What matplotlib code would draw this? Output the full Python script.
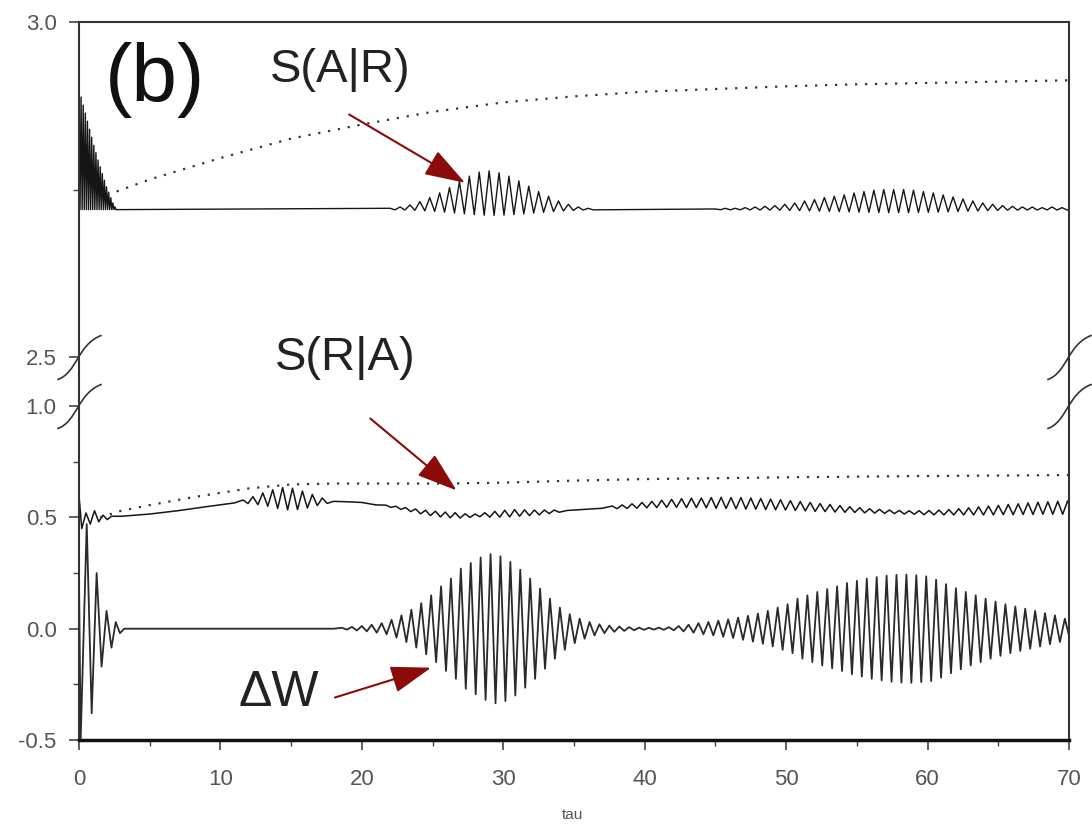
import numpy as np
import matplotlib
matplotlib.use("Agg")
from matplotlib import pyplot as plt
from matplotlib.path import Path

plt.rcParams['font.family'] = ['Liberation Sans', 'DejaVu Sans']

# --- data ----------------------------------------------------------------
PERIOD = 0.7          # carrier period of the bursts (tau units)
BASE_AR = 2.72        # baseline of S(A|R) solid trace

# S(A|R), upper panel
sar_head_amp = [0.18, 0.168, 0.156, 0.144, 0.132, 0.12, 0.108, 0.096, 0.085,
                0.074, 0.064, 0.054, 0.044, 0.034, 0.026, 0.018, 0.01, 0.004]
sar_burst1_amp = [0.002, 0.004, 0.007, 0.012, 0.018, 0.025, 0.033, 0.042, 0.05,
                  0.056, 0.058, 0.055, 0.05, 0.043, 0.035, 0.027, 0.02, 0.013,
                  0.008, 0.004, 0.002]
sar_burst2_amp = [0.001, 0.002, 0.002, 0.003, 0.004, 0.005, 0.006, 0.008, 0.01,
                  0.013, 0.015, 0.018, 0.02, 0.022, 0.025, 0.027, 0.029, 0.03,
                  0.03, 0.03, 0.029, 0.027, 0.025, 0.022, 0.019, 0.016, 0.013,
                  0.01, 0.008, 0.006, 0.005, 0.004, 0.004, 0.003, 0.004, 0.003]
sar_dot_tau = [2, 5, 10, 15, 20, 25, 30, 35, 40, 45, 50, 55, 60, 65, 70]
sar_dot_val = [2.742, 2.765, 2.797, 2.826, 2.847, 2.866, 2.880, 2.889, 2.896,
               2.900, 2.904, 2.907, 2.909, 2.911, 2.913]

# S(R|A), lower panel
sra_head_tau = [0.0, 0.2, 0.5, 0.8, 1.1, 1.4, 1.7, 2.0, 2.3, 3, 5, 7, 9, 11]
sra_head_val = [0.6, 0.45, 0.52, 0.47, 0.53, 0.48, 0.51, 0.49, 0.505, 0.505,
                0.515, 0.53, 0.548, 0.565]
sra_a_centre = [0.57, 0.575, 0.58, 0.582, 0.584, 0.583, 0.58, 0.578, 0.575]
sra_a_amp = [0.008, 0.018, 0.03, 0.042, 0.05, 0.048, 0.038, 0.025, 0.012]
sra_mid1_tau = [18, 19, 20, 21]
sra_mid1_val = [0.572, 0.57, 0.567, 0.556]
sra_b_centre = [0.55, 0.543, 0.535, 0.527, 0.52, 0.515, 0.511, 0.509, 0.508,
                0.509, 0.511, 0.514, 0.517, 0.52, 0.521, 0.522, 0.525, 0.528]
sra_b_amp = [0.005, 0.007, 0.009, 0.011, 0.012, 0.013, 0.013, 0.012, 0.008,
             0.006, 0.01, 0.013, 0.015, 0.015, 0.013, 0.011, 0.008, 0.005]
sra_mid2_tau = [34.5, 36, 37]
sra_mid2_val = [0.531, 0.537, 0.541]
sra_c_centre = [0.545, 0.548, 0.551, 0.555, 0.558, 0.561, 0.563, 0.564, 0.565,
                0.565, 0.565, 0.565, 0.564, 0.563, 0.562, 0.56, 0.558, 0.556,
                0.553, 0.55, 0.547, 0.544, 0.541, 0.538, 0.535, 0.532, 0.529,
                0.527, 0.525, 0.523, 0.522, 0.521, 0.521, 0.522, 0.523, 0.525,
                0.527, 0.529, 0.531, 0.533, 0.535, 0.537, 0.539, 0.541, 0.542,
                0.543, 0.544]
sra_c_amp = [0.006, 0.008, 0.01, 0.012, 0.014, 0.016, 0.018, 0.02, 0.021, 0.022,
             0.024, 0.025, 0.025, 0.026, 0.025, 0.025, 0.024, 0.023, 0.022,
             0.021, 0.02, 0.018, 0.017, 0.015, 0.013, 0.012, 0.01, 0.009, 0.008,
             0.008, 0.008, 0.009, 0.01, 0.011, 0.012, 0.014, 0.016, 0.018, 0.02,
             0.021, 0.023, 0.024, 0.026, 0.027, 0.028, 0.029, 0.03]
sra_dot_tau = [1.5, 3, 5, 8, 10, 12, 15, 18, 22, 26, 30, 35, 40, 45, 50, 55, 60,
               65, 70]
sra_dot_val = [0.5, 0.53, 0.555, 0.59, 0.61, 0.63, 0.648, 0.652, 0.652, 0.652,
               0.656, 0.665, 0.672, 0.676, 0.68, 0.683, 0.686, 0.688, 0.69]

# Delta W, lower panel
dw_head_tau = [0.0, 0.12, 0.55, 0.9, 1.25, 1.6, 1.95, 2.3, 2.6, 2.9, 3.2, 18.0]
dw_head_val = [0.25, -0.5, 0.47, -0.38, 0.25, -0.17, 0.08, -0.085, 0.03, -0.02,
               0.0, 0.0]
dw_burst1_amp = [0.004, 0.008, 0.012, 0.018, 0.025, 0.04, 0.06, 0.085, 0.115,
                 0.15, 0.19, 0.225, 0.27, 0.295, 0.32, 0.335, 0.325, 0.3, 0.265,
                 0.225, 0.18, 0.135, 0.095, 0.065, 0.045, 0.03, 0.02, 0.014,
                 0.01, 0.007, 0.005]
dw_burst2_amp = [0.004, 0.005, 0.007, 0.012, 0.018, 0.025, 0.03, 0.036, 0.042,
                 0.05, 0.058, 0.068, 0.08, 0.095, 0.11, 0.135, 0.15, 0.165,
                 0.178, 0.19, 0.205, 0.215, 0.225, 0.232, 0.238, 0.242, 0.243,
                 0.24, 0.235, 0.22, 0.2, 0.182, 0.165, 0.15, 0.135, 0.122, 0.11,
                 0.1, 0.09, 0.08, 0.07, 0.06, 0.045]

tick_vals = [-0.5, 0.0, 0.5, 1.0, 2.5, 3.0]
tick_labels = ["-0.5", "0.0", "0.5", "1.0", "2.5", "3.0"]


def zigzag(start, step, centre, amps, low=1.0):
    xs, ys = [], []
    for i, a in enumerate(amps):
        c = centre[i] if isinstance(centre, list) else centre
        t = start + i * step
        xs += [t, t + step / 2]
        ys += [c + a, c - low * a]
    return xs, ys


# broken y axis: 1.0 -> 2.5 squeezed, upper part stretched
def fwd(y):
    y = np.asarray(y, dtype=float)
    return np.where(y <= 1.0, y,
                    np.where(y >= 2.5, 1.22 + (y - 2.5) * 3.01,
                             1.0 + (y - 1.0) * 0.22 / 1.5))


def inv(v):
    v = np.asarray(v, dtype=float)
    return np.where(v <= 1.0, v,
                    np.where(v >= 1.22, 2.5 + (v - 1.22) / 3.01,
                             1.0 + (v - 1.0) * 1.5 / 0.22))


fig = plt.figure(figsize=(10.92, 8.36), dpi=100)
ax = fig.add_axes([0.0723, 0.1148, 0.9067, 0.8589])
ax.set_yscale('function', functions=(fwd, inv))

# S(A|R) solid
x1, y1 = zigzag(0.0, 0.15, BASE_AR, sar_head_amp, low=0.0)
x2, y2 = zigzag(22.0, PERIOD, BASE_AR, sar_burst1_amp, low=0.15)
x3, y3 = zigzag(45.0, PERIOD, BASE_AR, sar_burst2_amp, low=0.15)
ax.plot(x1 + x2 + x3 + [70.5], y1 + y2 + y3 + [BASE_AR], color='#151515', lw=1.0)
ax.plot(sar_dot_tau, sar_dot_val, color='#333333', lw=1.6, linestyle=(0, (1, 3.5)))

# S(R|A) solid
xa, ya = zigzag(11.6, PERIOD, sra_a_centre, sra_a_amp)
xb, yb = zigzag(21.7, PERIOD, sra_b_centre, sra_b_amp)
xc, yc = zigzag(37.7, PERIOD, sra_c_centre, sra_c_amp)
ax.plot(sra_head_tau + xa + sra_mid1_tau + xb + sra_mid2_tau + xc,
        sra_head_val + ya + sra_mid1_val + yb + sra_mid2_val + yc,
        color='#151515', lw=1.1)
ax.plot(sra_dot_tau, sra_dot_val, color='#333333', lw=1.6, linestyle=(0, (1, 3.5)))

# Delta W
xd1, yd1 = zigzag(18.6, PERIOD, 0.0, dw_burst1_amp)
xd2, yd2 = zigzag(40.3, PERIOD, 0.0, dw_burst2_amp)
ax.plot(dw_head_tau + xd1 + xd2, dw_head_val + yd1 + yd2, color='#2a2a2a', lw=1.3)

ax.set_xlim(0, 70)
ax.set_ylim(-0.5, 3.0)
ax.set_yticks(tick_vals)
ax.set_yticklabels(tick_labels)
ax.set_yticks([-0.25, 0.25, 0.75, 2.75], minor=True)
ax.set_xticks(range(0, 71, 10))
ax.set_xticks(range(5, 70, 10), minor=True)
ax.tick_params(which='major', direction='out', length=7, width=1.2, color='#444444',
               labelsize=16, labelcolor='#555555')
ax.tick_params(axis='x', which='major', pad=14)
ax.tick_params(axis='y', which='major', pad=9)
ax.tick_params(which='minor', direction='out', length=4, width=1.0, color='#444444')
for side in ['left', 'right', 'top']:
    ax.spines[side].set_linewidth(1.5)
    ax.spines[side].set_color('#333333')
ax.spines['bottom'].set_linewidth(2.5)
ax.spines['bottom'].set_color('#111111')

# break marks on both spines
brk = Path([(-1, -1), (-0.1, -0.7), (-0.1, 0.6), (1, 1)],
           [Path.MOVETO, Path.CURVE4, Path.CURVE4, Path.CURVE4])
for xs in [0, 1]:
    for yb_ in [2.5, 1.0]:
        ax.plot([xs], [yb_], transform=ax.get_yaxis_transform(), marker=brk,
                markersize=32, markerfacecolor='none', markeredgecolor='#333333',
                markeredgewidth=1.2, clip_on=False)

# labels
fig.text(0.096, 0.904, "(b)", fontsize=59, va='center', ha='left', color='#111111')
fig.text(0.247, 0.916, "S(A|R)", fontsize=34, va='center', ha='left', color='#222222')
fig.text(0.252, 0.572, "S(R|A)", fontsize=34, va='center', ha='left', color='#222222')
fig.text(0.218, 0.171, "ΔW", fontsize=36, va='center', ha='left', color='#222222')
fig.text(0.524, 0.025, "tau", fontsize=11, va='center', ha='center', color='#555555')

arrow = dict(arrowstyle='-|>,head_length=0.9,head_width=0.3', color='#8b0a0a',
             lw=1.5, mutation_scale=28, shrinkA=0, shrinkB=0)
ax.annotate("", xy=(27.3, 2.760), xytext=(19.1, 2.862), arrowprops=arrow)
ax.annotate("", xy=(26.7, 0.621), xytext=(20.6, 0.944), arrowprops=arrow)
ax.annotate("", xy=(24.9, -0.175), xytext=(18.1, -0.309), arrowprops=arrow)

fig.savefig("out.png", dpi=100)
